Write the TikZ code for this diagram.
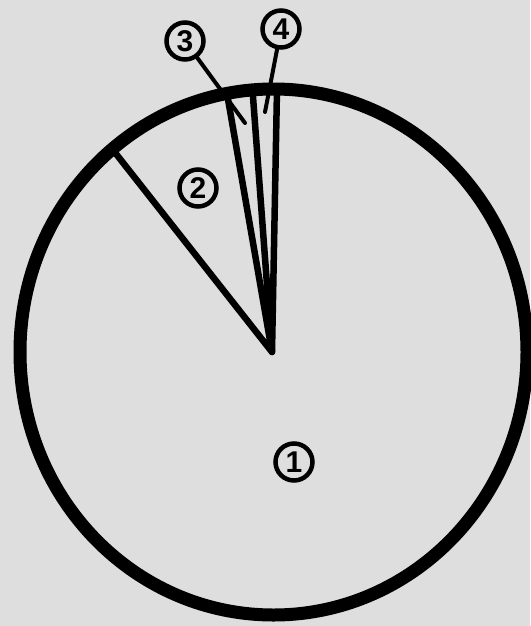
\documentclass[tikz,border=0pt]{standalone}
\usepackage{fontspec}
\setmainfont{Liberation Sans}
\begin{document}
\begin{tikzpicture}[x=1pt,y=-1pt,
  rim/.style={line width=13pt,draw=black},
  spoke/.style={line width=6.5pt,line cap=round,line join=round},
  leader/.style={line width=4pt,line cap=round},
  tag/.style={circle,draw,line width=4.5pt,minimum size=37pt,inner sep=0pt,
              font=\fontsize{30}{30}\selectfont\bfseries}]
\definecolor{paper}{RGB}{222,222,222}
\fill[paper] (0,0) rectangle (530,626);
\useasboundingbox (0,0) rectangle (530,626);
% pie centre and rim points
\coordinate (apex) at (272,352);
\coordinate (pA) at (113,150);
\coordinate (pB) at (227,93.5);
\coordinate (pC) at (252.5,90);
\coordinate (pD) at (277,89);
\draw[spoke] (pA) -- (apex) -- (pB);
\draw[spoke] (pC) -- (apex) -- (pD);
% rim
\draw[rim] (273.5,352) ellipse [x radius=253.5, y radius=263];
% labels
\node[tag] (l1) at (294,462) {1};
\node[tag] (l2) at (198,188) {2};
\node[tag] (l3) at (185,41) {3};
\node[tag] (l4) at (281,29) {4};
\coordinate (e3) at (245,123);
\coordinate (e4) at (265,112);
\draw[leader] (l3) -- (e3);
\draw[leader] (l4) -- (e4);
\end{tikzpicture}
\end{document}
